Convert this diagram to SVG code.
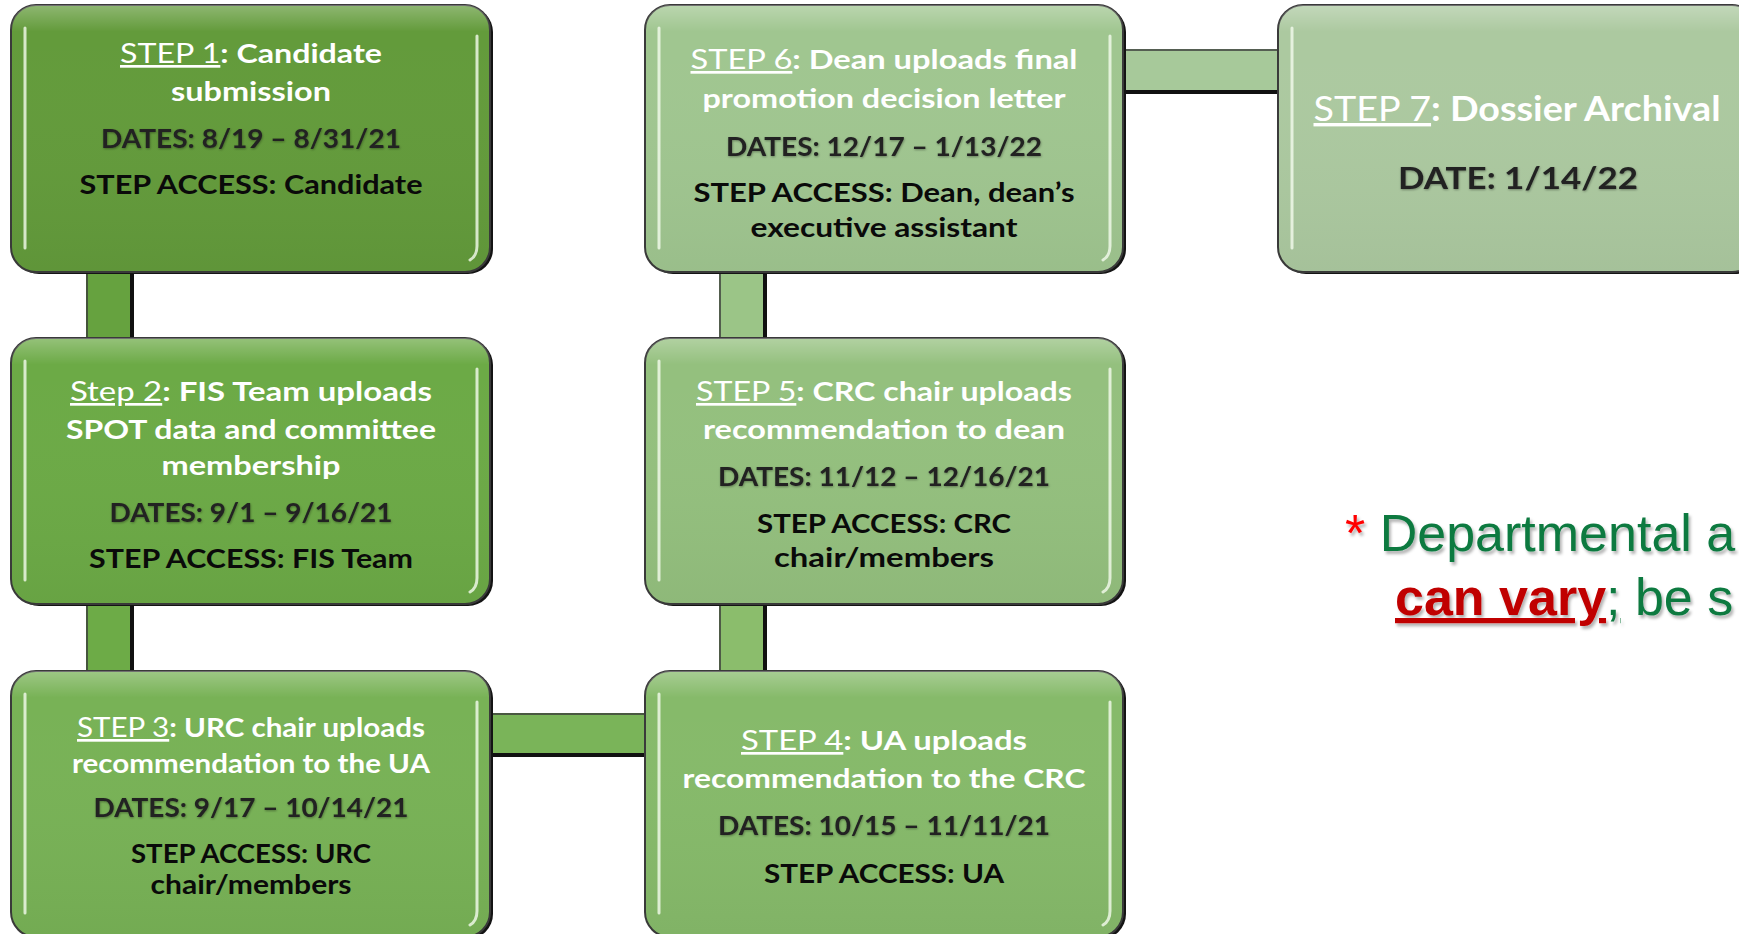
<svg xmlns="http://www.w3.org/2000/svg" width="1739" height="934" viewBox="0 0 1739 934">
<defs>
<style>
.box{stroke:#3a3a3a;stroke-width:2}
.shadow{fill:#141414}
.gloss{fill:url(#gloss);stroke:none}
.hl{fill:none;stroke:#f4fbee;stroke-width:3;stroke-linecap:round;opacity:.8}
.title{font-family:Lato,"Open Sans","Liberation Sans",sans-serif;font-weight:bold;font-size:27px;fill:#ffffff;text-anchor:middle}
.u{font-weight:normal;text-decoration:underline}
.body{font-family:Lato,"Open Sans","Liberation Sans",sans-serif;font-weight:bold;font-size:26px;fill:#0a0a0a;text-anchor:middle}
.date{fill:#222;filter:url(#soft)}
.big{font-size:34px}
.big2{font-size:31px}
.thin{stroke:#3a3a3a;stroke-width:1.5}
.thick{stroke:#111;stroke-width:4}
.note{font-family:"Liberation Sans",Arial,sans-serif;font-size:52px;filter:url(#ns)}
</style>
<linearGradient id="gloss" x1="0" y1="0" x2="0" y2="1">
<stop offset="0" stop-color="#ffffff" stop-opacity="0.28"/>
<stop offset="0.1" stop-color="#ffffff" stop-opacity="0"/>
<stop offset="1" stop-color="#000000" stop-opacity="0.04"/>
</linearGradient>
<filter id="soft" x="-5%" y="-30%" width="110%" height="160%">
<feDropShadow dx="0.5" dy="1" stdDeviation="1" flood-color="#000" flood-opacity="0.35"/>
</filter>
<filter id="ns" x="-5%" y="-20%" width="110%" height="150%">
<feDropShadow dx="2" dy="3" stdDeviation="1.5" flood-color="#000" flood-opacity="0.3"/>
</filter>
</defs>
<rect width="1739" height="934" fill="#ffffff"/>

<g id="connectors">
<rect x="86" y="268" width="48" height="74" fill="#66a23f"/>
<line class="thin" x1="87" y1="268" x2="87" y2="342"/>
<line class="thick" x1="132" y1="268" x2="132" y2="342"/>
<rect x="86" y="600" width="48" height="75" fill="#6dab47"/>
<line class="thin" x1="87" y1="600" x2="87" y2="675"/>
<line class="thick" x1="132" y1="600" x2="132" y2="675"/>
<rect x="486" y="713" width="162" height="44" fill="#7ab459"/>
<line class="thin" x1="486" y1="714" x2="648" y2="714"/>
<line class="thick" x1="486" y1="755" x2="648" y2="755"/>
<rect x="719" y="600" width="48" height="75" fill="#8bbd6c"/>
<line class="thin" x1="720" y1="600" x2="720" y2="675"/>
<line class="thick" x1="765" y1="600" x2="765" y2="675"/>
<rect x="719" y="268" width="48" height="74" fill="#9bc587"/>
<line class="thin" x1="720" y1="268" x2="720" y2="342"/>
<line class="thick" x1="765" y1="268" x2="765" y2="342"/>
<rect x="1119" y="49" width="162" height="45" fill="#a7c99a"/>
<line class="thin" x1="1119" y1="50" x2="1281" y2="50"/>
<line class="thick" x1="1119" y1="92" x2="1281" y2="92"/>
</g>

<g id="step1">
<rect class="shadow" x="14" y="7" width="479" height="267" rx="25"/>
<rect class="box" x="11" y="5" width="479" height="267" rx="25" fill="#639b3b"/>
<rect class="gloss" x="11" y="5" width="479" height="267" rx="25"/>
<path class="hl" d="M25 28 V248"/>
<path class="hl" d="M477 36 V246 Q477 256 470 260"/>
<text class="title" x="251" y="63" textLength="262" lengthAdjust="spacingAndGlyphs"><tspan class="u">STEP 1</tspan>: Candidate</text>
<text class="title" x="251" y="101" textLength="160" lengthAdjust="spacingAndGlyphs">submission</text>
<text class="body date" x="251" y="148" textLength="300" lengthAdjust="spacingAndGlyphs">DATES: 8/19 – 8/31/21</text>
<text class="body" x="251" y="194" textLength="343" lengthAdjust="spacingAndGlyphs">STEP ACCESS: Candidate</text>
</g>

<g id="step2">
<rect class="shadow" x="14" y="340" width="479" height="266" rx="25"/>
<rect class="box" x="11" y="338" width="479" height="266" rx="25" fill="#6caa46"/>
<rect class="gloss" x="11" y="338" width="479" height="266" rx="25"/>
<path class="hl" d="M25 361 V580"/>
<path class="hl" d="M477 369 V578 Q477 588 470 592"/>
<text class="title" x="251" y="401" textLength="362" lengthAdjust="spacingAndGlyphs"><tspan class="u">Step 2</tspan>: FIS Team uploads</text>
<text class="title" x="251" y="439" textLength="370" lengthAdjust="spacingAndGlyphs">SPOT data and committee</text>
<text class="title" x="251" y="475" textLength="179" lengthAdjust="spacingAndGlyphs">membership</text>
<text class="body date" x="251" y="522" textLength="283" lengthAdjust="spacingAndGlyphs">DATES: 9/1 – 9/16/21</text>
<text class="body" x="251" y="568" textLength="324" lengthAdjust="spacingAndGlyphs">STEP ACCESS: FIS Team</text>
</g>

<g id="step3">
<rect class="shadow" x="14" y="673" width="479" height="266" rx="25"/>
<rect class="box" x="11" y="671" width="479" height="266" rx="25" fill="#78b256"/>
<rect class="gloss" x="11" y="671" width="479" height="266" rx="25"/>
<path class="hl" d="M25 694 V913"/>
<path class="hl" d="M477 702 V911 Q477 921 470 925"/>
<text class="title" x="251" y="737" textLength="348" lengthAdjust="spacingAndGlyphs"><tspan class="u">STEP 3</tspan>: URC chair uploads</text>
<text class="title" x="251" y="773" textLength="358" lengthAdjust="spacingAndGlyphs">recommendation to the UA</text>
<text class="body date" x="251" y="817" textLength="315" lengthAdjust="spacingAndGlyphs">DATES: 9/17 – 10/14/21</text>
<text class="body" x="251" y="863" textLength="240" lengthAdjust="spacingAndGlyphs">STEP ACCESS: URC</text>
<text class="body" x="251" y="894" textLength="201" lengthAdjust="spacingAndGlyphs">chair/members</text>
</g>

<g id="step4">
<rect class="shadow" x="648" y="673" width="478" height="266" rx="25"/>
<rect class="box" x="645" y="671" width="478" height="266" rx="25" fill="#86ba6a"/>
<rect class="gloss" x="645" y="671" width="478" height="266" rx="25"/>
<path class="hl" d="M659 694 V913"/>
<path class="hl" d="M1110 702 V911 Q1110 921 1103 925"/>
<text class="title" x="884" y="750" textLength="286" lengthAdjust="spacingAndGlyphs"><tspan class="u">STEP 4</tspan>: UA uploads</text>
<text class="title" x="884" y="788" textLength="403" lengthAdjust="spacingAndGlyphs">recommendation to the CRC</text>
<text class="body date" x="884" y="835" textLength="332" lengthAdjust="spacingAndGlyphs">DATES: 10/15 – 11/11/21</text>
<text class="body" x="884" y="883" textLength="240" lengthAdjust="spacingAndGlyphs">STEP ACCESS: UA</text>
</g>

<g id="step5">
<rect class="shadow" x="648" y="340" width="478" height="266" rx="25"/>
<rect class="box" x="645" y="338" width="478" height="266" rx="25" fill="#94c07e"/>
<rect class="gloss" x="645" y="338" width="478" height="266" rx="25"/>
<path class="hl" d="M659 361 V580"/>
<path class="hl" d="M1110 369 V578 Q1110 588 1103 592"/>
<text class="title" x="884" y="401" textLength="376" lengthAdjust="spacingAndGlyphs"><tspan class="u">STEP 5</tspan>: CRC chair uploads</text>
<text class="title" x="884" y="439" textLength="362" lengthAdjust="spacingAndGlyphs">recommendation to dean</text>
<text class="body date" x="884" y="486" textLength="332" lengthAdjust="spacingAndGlyphs">DATES: 11/12 – 12/16/21</text>
<text class="body" x="884" y="533" textLength="254" lengthAdjust="spacingAndGlyphs">STEP ACCESS: CRC</text>
<text class="body" x="884" y="567" textLength="220" lengthAdjust="spacingAndGlyphs">chair/members</text>
</g>

<g id="step6">
<rect class="shadow" x="648" y="7" width="478" height="267" rx="25"/>
<rect class="box" x="645" y="5" width="478" height="267" rx="25" fill="#a0c690"/>
<rect class="gloss" x="645" y="5" width="478" height="267" rx="25"/>
<path class="hl" d="M659 28 V248"/>
<path class="hl" d="M1110 36 V246 Q1110 256 1103 260"/>
<text class="title" x="884" y="69" textLength="387" lengthAdjust="spacingAndGlyphs"><tspan class="u">STEP 6</tspan>: Dean uploads final</text>
<text class="title" x="884" y="108" textLength="363" lengthAdjust="spacingAndGlyphs">promotion decision letter</text>
<text class="body date" x="884" y="156" textLength="316" lengthAdjust="spacingAndGlyphs">DATES: 12/17 – 1/13/22</text>
<text class="body" x="884" y="202" textLength="381" lengthAdjust="spacingAndGlyphs">STEP ACCESS: Dean, dean’s</text>
<text class="body" x="884" y="237" textLength="267" lengthAdjust="spacingAndGlyphs">executive assistant</text>
</g>

<g id="step7">
<rect class="shadow" x="1281" y="7" width="479" height="267" rx="25"/>
<rect class="box" x="1278" y="5" width="479" height="267" rx="25" fill="#acc9a0"/>
<rect class="gloss" x="1278" y="5" width="479" height="267" rx="25"/>
<path class="hl" d="M1292 28 V248"/>
<text class="title big" x="1517" y="121" textLength="407" lengthAdjust="spacingAndGlyphs"><tspan class="u">STEP 7</tspan>: Dossier Archival</text>
<text class="body big2 date" x="1518" y="189" textLength="240" lengthAdjust="spacingAndGlyphs">DATE: 1/14/22</text>
</g>

<g id="note">
<text class="note" x="1345" y="551"><tspan fill="#ff0000">*</tspan><tspan fill="#0e7a40"> Departmental a</tspan></text>
<text class="note" x="1395" y="615"><tspan fill="#c00000" font-weight="bold" text-decoration="underline">can vary</tspan><tspan fill="#0e7a40" text-decoration="underline">;</tspan><tspan fill="#0e7a40"> be s</tspan></text>
</g>
</svg>
